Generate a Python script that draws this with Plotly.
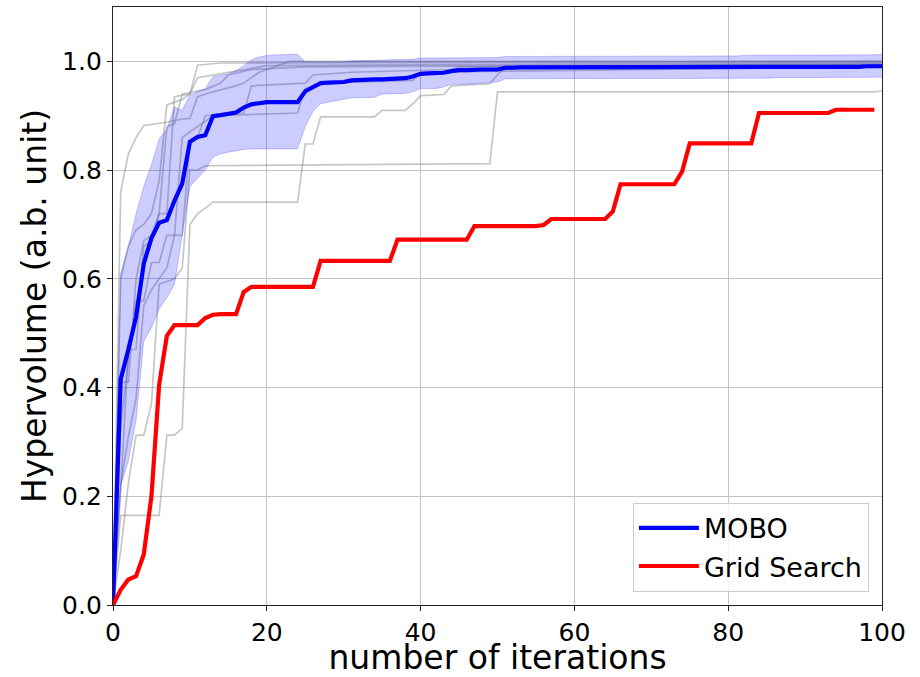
import plotly.graph_objects as go

# ---- data -------------------------------------------------------------
iterations = list(range(101))

mobo_mean = [
    0.000, 0.415, 0.470, 0.530, 0.628, 0.675, 0.703, 0.708, 0.744, 0.775,
    0.852, 0.861, 0.864, 0.899, 0.901, 0.903, 0.906, 0.915, 0.921, 0.923,
    0.925, 0.925, 0.925, 0.925, 0.925, 0.945, 0.953, 0.960, 0.961, 0.962,
    0.962, 0.965, 0.966, 0.966, 0.967, 0.967, 0.968, 0.968, 0.969, 0.972,
    0.977, 0.978, 0.978, 0.979, 0.982, 0.984, 0.984, 0.985, 0.985, 0.985,
    0.985, 0.988, 0.989, 0.989, 0.989, 0.989, 0.989, 0.989, 0.989, 0.989,
    0.989, 0.989, 0.989, 0.989, 0.989, 0.989, 0.989, 0.989, 0.989, 0.989,
    0.989, 0.989, 0.989, 0.989, 0.989, 0.989, 0.990, 0.990, 0.990, 0.990,
    0.990, 0.990, 0.990, 0.990, 0.990, 0.990, 0.990, 0.990, 0.990, 0.990,
    0.990, 0.990, 0.990, 0.990, 0.990, 0.990, 0.990, 0.990, 0.991, 0.991,
    0.991,
]

mobo_upper = [
    0.000, 0.610, 0.660, 0.720, 0.770, 0.810, 0.857, 0.875, 0.916, 0.910,
    0.938, 0.944, 0.950, 0.972, 0.975, 0.977, 0.983, 0.992, 1.003, 1.008,
    1.011, 1.012, 1.013, 1.013, 1.013, 0.999, 0.999, 0.999, 0.999, 0.999,
    0.999, 1.001, 1.001, 1.002, 1.002, 1.002, 1.003, 1.003, 1.003, 1.004,
    1.006, 1.006, 1.006, 1.006, 1.006, 1.006, 1.006, 1.006, 1.006, 1.006,
    1.007, 1.009, 1.009, 1.009, 1.009, 1.009, 1.009, 1.009, 1.009, 1.009,
    1.009, 1.009, 1.009, 1.009, 1.009, 1.009, 1.009, 1.009, 1.009, 1.009,
    1.009, 1.010, 1.010, 1.010, 1.010, 1.010, 1.010, 1.010, 1.010, 1.010,
    1.010, 1.010, 1.011, 1.011, 1.011, 1.011, 1.011, 1.011, 1.011, 1.011,
    1.011, 1.011, 1.012, 1.012, 1.012, 1.012, 1.012, 1.012, 1.012, 1.012,
    1.013,
]

mobo_lower = [
    0.000, 0.220, 0.265, 0.340, 0.485, 0.510, 0.545, 0.565, 0.590, 0.680,
    0.770, 0.785, 0.800, 0.824, 0.830, 0.833, 0.836, 0.838, 0.839, 0.839,
    0.839, 0.839, 0.839, 0.839, 0.839, 0.880, 0.908, 0.922, 0.925, 0.928,
    0.930, 0.933, 0.933, 0.933, 0.934, 0.940, 0.940, 0.940, 0.941, 0.944,
    0.950, 0.950, 0.950, 0.953, 0.958, 0.958, 0.958, 0.959, 0.960, 0.961,
    0.962, 0.968, 0.968, 0.968, 0.968, 0.968, 0.968, 0.968, 0.968, 0.968,
    0.968, 0.968, 0.968, 0.968, 0.968, 0.968, 0.968, 0.968, 0.968, 0.968,
    0.968, 0.968, 0.968, 0.968, 0.968, 0.968, 0.969, 0.969, 0.969, 0.969,
    0.969, 0.969, 0.969, 0.969, 0.969, 0.969, 0.970, 0.970, 0.970, 0.970,
    0.970, 0.970, 0.970, 0.970, 0.970, 0.970, 0.970, 0.971, 0.971, 0.971,
    0.971,
]

grid_iterations = list(range(100))
grid_search = [
    0.000, 0.028, 0.047, 0.053, 0.093, 0.200, 0.405, 0.495, 0.515, 0.515,
    0.515, 0.515, 0.528, 0.534, 0.535, 0.535, 0.535, 0.576, 0.585, 0.585,
    0.585, 0.585, 0.585, 0.585, 0.585, 0.585, 0.585, 0.633, 0.633, 0.633,
    0.633, 0.633, 0.633, 0.633, 0.633, 0.633, 0.633, 0.672, 0.672, 0.672,
    0.672, 0.672, 0.672, 0.672, 0.672, 0.672, 0.672, 0.697, 0.697, 0.697,
    0.697, 0.697, 0.697, 0.697, 0.697, 0.697, 0.699, 0.710, 0.710, 0.710,
    0.710, 0.710, 0.710, 0.710, 0.710, 0.724, 0.774, 0.774, 0.774, 0.774,
    0.774, 0.774, 0.774, 0.774, 0.797, 0.849, 0.849, 0.849, 0.849, 0.849,
    0.849, 0.849, 0.849, 0.849, 0.905, 0.905, 0.905, 0.905, 0.905, 0.905,
    0.905, 0.905, 0.905, 0.905, 0.911, 0.911, 0.911, 0.911, 0.911, 0.911,
]

# individual MOBO runs: iteration / hypervolume at each change of the curve
run_a_x = [0, 1, 2, 3, 4, 7, 9, 10, 11, 13, 16, 17, 19, 21, 23, 100]
run_a_y = [0, 0.76, 0.83, 0.86, 0.882, 0.888, 0.894, 0.895, 0.935, 0.944,
           0.955, 0.96, 0.98, 0.99, 1.0, 1.0]
run_b_x = [0, 1, 2, 3, 4, 5, 6, 7, 8, 10, 11, 14, 100]
run_b_y = [0, 0.21, 0.47, 0.47, 0.66, 0.67, 0.72, 0.72, 0.935, 0.94, 0.993,
           0.997, 1.0]
run_c_x = [0, 1, 2, 3, 4, 5, 6, 8, 9, 10, 11, 12, 49, 50, 99, 100]
run_c_y = [0, 0.10, 0.224, 0.3125, 0.3125, 0.37, 0.59, 0.60, 0.62, 0.80,
           0.80, 0.808, 0.812, 0.944, 0.944, 0.946]
run_d_x = [0, 1, 6, 7, 8, 9, 10, 11, 12, 13, 24, 25, 26, 27, 34, 35, 38, 39,
           40, 43, 44, 49, 50, 51, 100]
run_d_y = [0, 0.165, 0.165, 0.3125, 0.3125, 0.325, 0.70, 0.72, 0.73, 0.741,
           0.741, 0.848, 0.848, 0.898, 0.898, 0.91, 0.91, 0.922, 0.937, 0.939,
           0.955, 0.959, 0.975, 0.99, 0.995]
run_e_x = [0, 1, 2, 3, 4, 5, 6, 7, 8, 9, 12, 14, 15, 18, 25, 100]
run_e_y = [0, 0.41, 0.41, 0.60, 0.67, 0.68, 0.72, 0.88, 0.885, 0.94, 0.948,
           0.96, 0.975, 0.985, 0.99, 0.995]
run_f_x = [0, 1, 2, 3, 4, 5, 6, 7, 8, 9, 10, 13, 24, 25, 27, 39, 40, 100]
run_f_y = [0, 0.33, 0.45, 0.56, 0.56, 0.63, 0.63, 0.68, 0.68, 0.86, 0.87,
           0.90, 0.905, 0.95, 0.96, 0.965, 0.98, 0.99]
run_g_x = [0, 1, 2, 3, 4, 5, 6, 7, 9, 10, 11, 13, 17, 20, 100]
run_g_y = [0, 0.60, 0.66, 0.69, 0.70, 0.72, 0.78, 0.92, 0.93, 0.94, 0.97,
           0.975, 0.985, 0.992, 0.998]
run_h_x = [0, 1, 2, 3, 4, 5, 6, 7, 8, 9, 10, 11, 12, 17, 18, 25, 26, 31, 44,
           45, 100]
run_h_y = [0, 0.22, 0.31, 0.38, 0.55, 0.58, 0.60, 0.62, 0.68, 0.68, 0.85,
           0.86, 0.90, 0.905, 0.955, 0.96, 0.975, 0.98, 0.985, 0.99, 0.993]

runs = [
    (run_a_x, run_a_y), (run_b_x, run_b_y), (run_c_x, run_c_y),
    (run_d_x, run_d_y), (run_e_x, run_e_y), (run_f_x, run_f_y),
    (run_g_x, run_g_y), (run_h_x, run_h_y),
]

x_ticks = [0, 20, 40, 60, 80, 100]
y_ticks = [0.0, 0.2, 0.4, 0.6, 0.8, 1.0]

# ---- figure -----------------------------------------------------------
FONT = "DejaVu Sans"
fig = go.Figure()

for rx, ry in runs:
    fig.add_trace(go.Scatter(
        x=rx, y=ry, mode="lines", showlegend=False, hoverinfo="skip",
        line=dict(color="rgba(128,128,128,0.45)", width=1.7),
    ))

# spread of the MOBO runs
fig.add_trace(go.Scatter(
    x=iterations, y=mobo_lower, mode="lines", showlegend=False,
    line=dict(color="rgba(0,0,255,0.2)", width=1),
))
fig.add_trace(go.Scatter(
    x=iterations, y=mobo_upper, mode="lines", showlegend=False,
    fill="tonexty", fillcolor="rgba(0,0,255,0.2)",
    line=dict(color="rgba(0,0,255,0.2)", width=1),
))

fig.add_trace(go.Scatter(
    x=iterations, y=mobo_mean, mode="lines", name="MOBO",
    line=dict(color="#0000ff", width=4.2),
))
fig.add_trace(go.Scatter(
    x=grid_iterations, y=grid_search, mode="lines", name="Grid Search",
    line=dict(color="#ff0000", width=4.2),
))

axis_common = dict(
    showline=True, mirror=True, linecolor="#222222", linewidth=1.3,
    showgrid=True, gridcolor="#c4c4c4", gridwidth=1,
    ticks="outside", ticklen=5, tickwidth=1.2, tickcolor="#222222",
    tickfont=dict(family=FONT, size=25, color="black"),
    zeroline=False, automargin=False,
)

fig.update_layout(
    width=920, height=677,
    margin=dict(l=113, r=38, t=7, b=72),
    paper_bgcolor="white", plot_bgcolor="white",
    font=dict(family=FONT, color="black"),
    xaxis=dict(
        range=[0, 100], tickvals=x_ticks, ticklabelstandoff=0,
        title=dict(text="number of iterations",
                   font=dict(family=FONT, size=33), standoff=4),
        **axis_common,
    ),
    yaxis=dict(
        range=[0, 1.1], tickvals=y_ticks, tickformat=".1f",
        title=dict(text="Hypervolume (a.b. unit)",
                   font=dict(family=FONT, size=33), standoff=5),
        **axis_common,
    ),
    legend=dict(
        x=0.983, y=0.022, xanchor="right", yanchor="bottom",
        traceorder="normal",
        bgcolor="rgba(255,255,255,0.8)", bordercolor="#cccccc", borderwidth=1,
        font=dict(family=FONT, size=27, color="black"),
        itemwidth=60, tracegroupgap=4,
    ),
)

fig.write_html("out.html")
